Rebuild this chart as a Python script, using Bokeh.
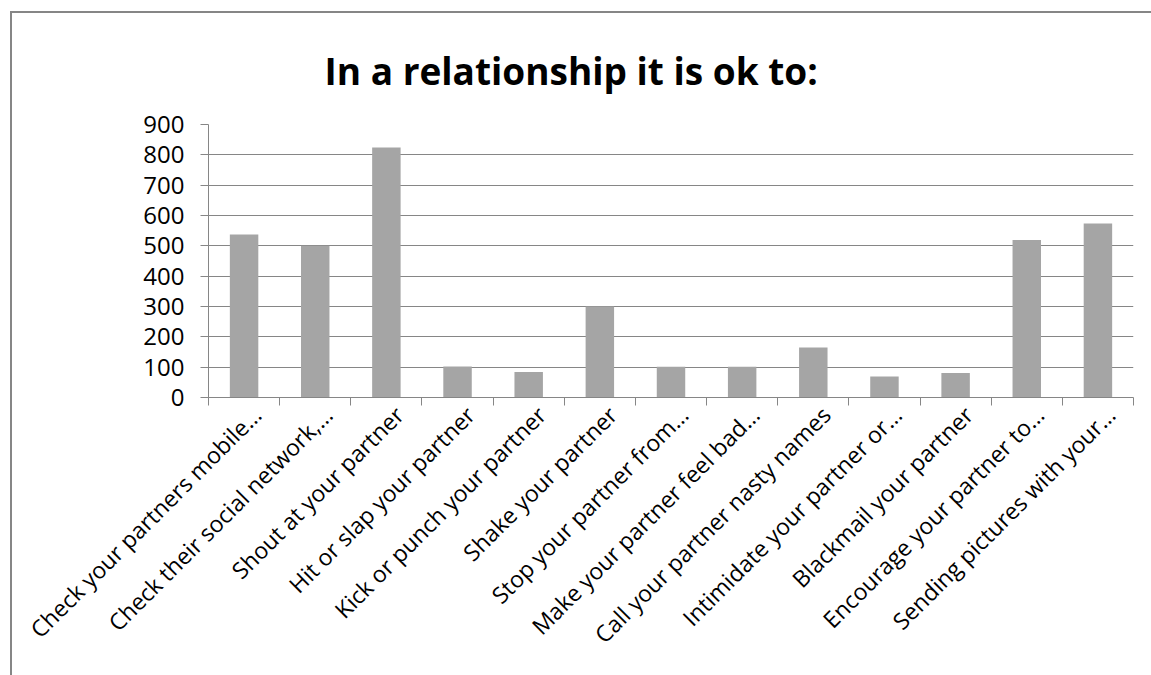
from bokeh.plotting import figure
from bokeh.models import FixedTicker, ColumnDataSource
from bokeh.embed import file_html
from bokeh.resources import INLINE

categories = [
    "Check your partners mobile…",
    "Check their social network,…",
    "Shout at your partner",
    "Hit or slap your partner",
    "Kick or punch your partner",
    "Shake your partner",
    "Stop your partner from…",
    "Make your partner feel bad…",
    "Call your partner nasty names",
    "Intimidate your partner or…",
    "Blackmail your partner",
    "Encourage your partner to…",
    "Sending pictures with your…",
]
values = [537, 500, 824, 102, 84, 300, 101, 101, 165, 69, 81, 519, 574]
y_ticks = [0, 100, 200, 300, 400, 500, 600, 700, 800, 900]

n = len(categories)
xs = [i + 0.5 for i in range(n)]
label_shift = 0.18
label_pos = [x + label_shift for x in xs]

GRID = "#868686"
FONT = "Open Sans"

p = figure(width=1141, height=664, x_range=(0, n), y_range=(0, 900),
           output_backend="svg", toolbar_location=None,
           min_border_left=196, min_border_right=20,
           min_border_top=111, min_border_bottom=280,
           margin=(11, 0, 0, 10))
p.styles = {"border-top": "2px solid #868686", "border-left": "2px solid #868686"}

src = ColumnDataSource(dict(x=xs, top=values))
p.vbar(x="x", top="top", width=0.4, bottom=0, source=src,
       fill_color="#A5A5A5", line_color=None)

p.title.text = "In a relationship it is ok to:"
p.title.text_font = FONT
p.title.text_font_style = "bold"
p.title.text_font_size = "37px"
p.title.text_color = "black"
p.title.align = "left"
p.title.offset = 116
p.title.standoff = 57

p.outline_line_color = None
p.background_fill_color = "white"
p.border_fill_color = "white"

p.xgrid.visible = False
p.ygrid.grid_line_color = GRID
p.ygrid.grid_line_width = 1
p.ygrid.ticker = FixedTicker(ticks=y_ticks)

ya = p.yaxis[0]
ya.ticker = FixedTicker(ticks=y_ticks)
ya.axis_line_color = GRID
ya.major_tick_line_color = GRID
ya.major_tick_out = 8
ya.major_tick_in = 0
ya.minor_tick_line_color = None
ya.major_label_text_font = FONT
ya.major_label_text_font_size = "24px"
ya.major_label_text_color = "black"
ya.major_label_standoff = 16

xa = p.xaxis[0]
xa.ticker = FixedTicker(ticks=label_pos, minor_ticks=list(range(n + 1)))
xa.major_label_overrides = {pos: lab for pos, lab in zip(label_pos, categories)}
xa.axis_line_color = GRID
xa.major_tick_line_color = None
xa.major_tick_out = 0
xa.major_tick_in = 0
xa.minor_tick_line_color = GRID
xa.minor_tick_out = 8
xa.minor_tick_in = 0
xa.major_label_orientation = 0.785398
xa.major_label_text_font = FONT
xa.major_label_text_font_size = "23px"
xa.major_label_text_color = "black"
xa.major_label_standoff = 5

open("out.html", "w").write(file_html(p, INLINE))
